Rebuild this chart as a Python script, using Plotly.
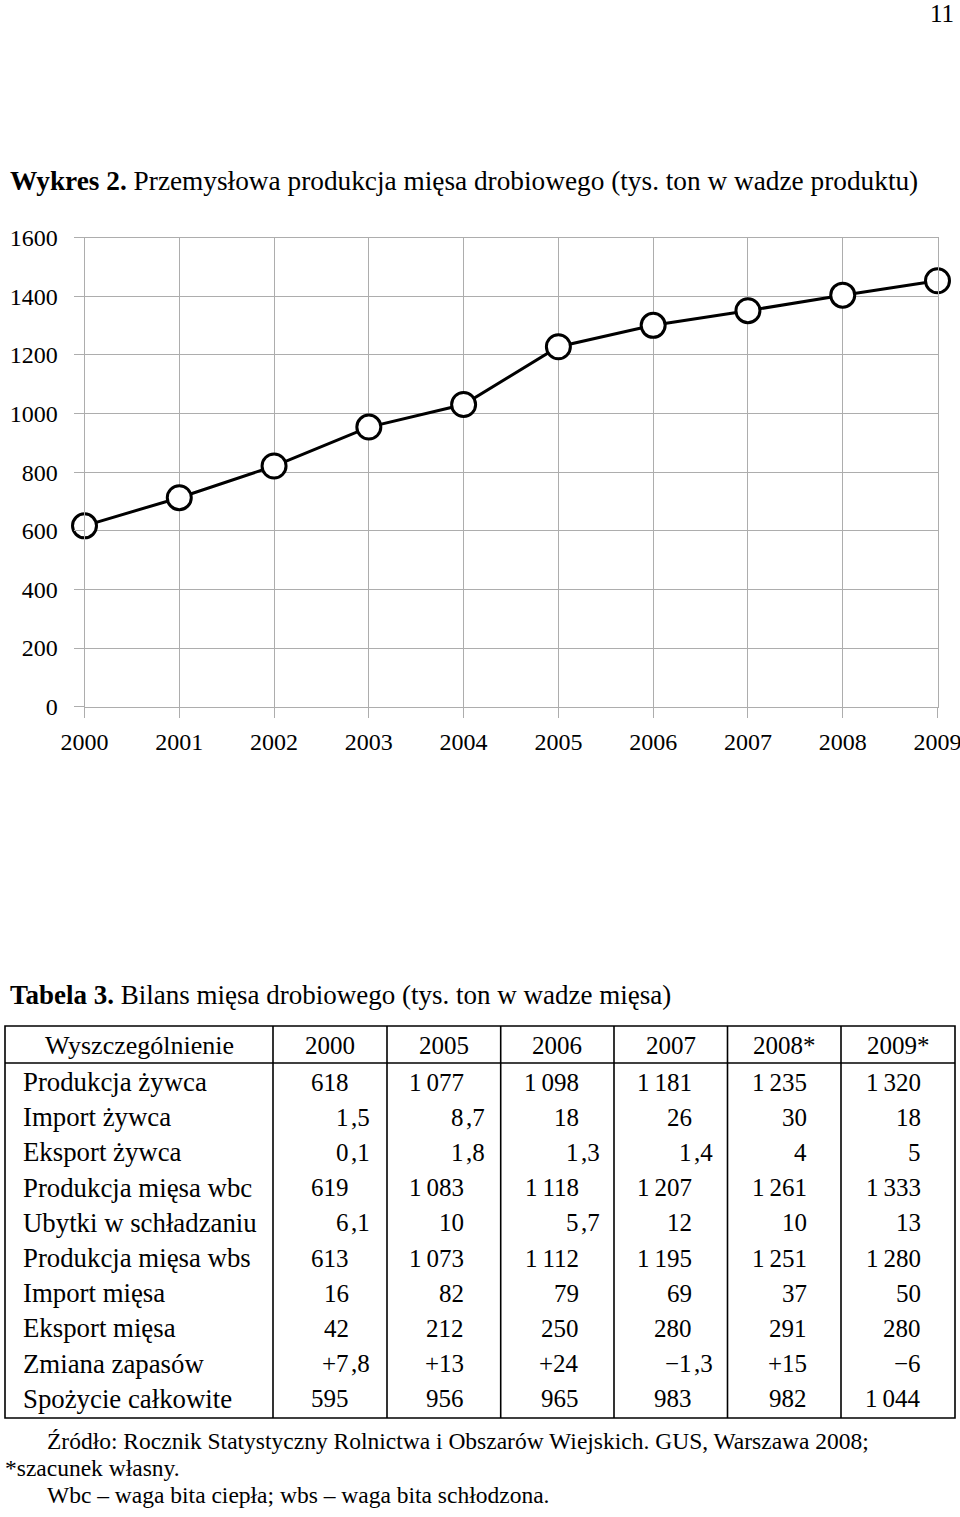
import plotly.graph_objects as go

W, H = 960, 1517
FONT = "Liberation Serif"

# ---------------- chart data ----------------
years = [2000, 2001, 2002, 2003, 2004, 2005, 2006, 2007, 2008, 2009]
production = [617, 713, 821, 954, 1031, 1228, 1301, 1351, 1404, 1453]
y_ticks = [0, 200, 400, 600, 800, 1000, 1200, 1400, 1600]

chart_title_bold = "Wykres 2."
chart_title_rest = " Przemysłowa produkcja mięsa drobiowego (tys. ton w wadze produktu)"
page_number = "11"

# ---------------- table data ----------------
table_title_bold = "Tabela 3."
table_title_rest = " Bilans mięsa drobiowego (tys. ton w wadze mięsa)"
header_first = "Wyszczególnienie"
header_years = ["2000", "2005", "2006", "2007", "2008*", "2009*"]
row_labels = [
    "Produkcja żywca", "Import żywca", "Eksport żywca", "Produkcja mięsa wbc",
    "Ubytki w schładzaniu", "Produkcja mięsa wbs", "Import mięsa", "Eksport mięsa",
    "Zmiana zapasów", "Spożycie całkowite",
]
col_2000 = ["618", "1,5", "0,1", "619", "6,1", "613", "16", "42", "+7,8", "595"]
col_2005 = ["1 077", "8,7", "1,8", "1 083", "10", "1 073", "82", "212", "+13", "956"]
col_2006 = ["1 098", "18", "1,3", "1 118", "5,7", "1 112", "79", "250", "+24", "965"]
col_2007 = ["1 181", "26", "1,4", "1 207", "12", "1 195", "69", "280", "\u22121,3", "983"]
col_2008 = ["1 235", "30", "4", "1 261", "10", "1 251", "37", "291", "+15", "982"]
col_2009 = ["1 320", "18", "5", "1 333", "13", "1 280", "50", "280", "\u22126", "1 044"]
table_columns = [col_2000, col_2005, col_2006, col_2007, col_2008, col_2009]

footer_lines = [
    "Źródło: Rocznik Statystyczny Rolnictwa i Obszarów Wiejskich. GUS, Warszawa 2008;",
    "*szacunek własny.",
    "Wbc – waga bita ciepła; wbs – waga bita schłodzona.",
]


def px(x):
    return x / W


def py(y):
    return 1 - y / H


fig = go.Figure()

fig.add_trace(go.Scatter(
    x=years, y=production, mode="lines+markers",
    line=dict(color="black", width=3),
    marker=dict(size=24, color="white", line=dict(color="black", width=3)),
    cliponaxis=False, showlegend=False, hoverinfo="x+y",
))

grid = "#adadad"
axis_common = dict(
    showgrid=True, gridcolor=grid, gridwidth=1, zeroline=False,
    showline=True, linecolor=grid, linewidth=1, mirror=True,
    ticks="outside", ticklen=10, tickcolor=grid, tickwidth=1,
    tickfont=dict(family=FONT, size=24, color="black"),
    ticklabeloverflow="allow",
    automargin=False, fixedrange=True,
)
fig.update_layout(
    template="none",
    width=W, height=H, margin=dict(l=0, r=0, t=0, b=0, pad=0), autosize=False,
    paper_bgcolor="white", plot_bgcolor="white", showlegend=False,
    font=dict(family=FONT, color="black"),
    xaxis=dict(
        domain=[px(84.5), px(937.5)], range=[years[0], years[-1]],
        tickvals=years, ticktext=[str(y) for y in years],
        ticklabelstandoff=3, **axis_common,
    ),
    yaxis=dict(
        domain=[py(706.7), py(237.7)], range=[0, 1600],
        tickvals=y_ticks, ticktext=[str(v) for v in y_ticks],
        ticklabelstandoff=11, **axis_common,
    ),
)

annotations = []
shapes = []


def text(x, y, s, size=25, xanchor="left"):
    annotations.append(dict(
        x=px(x), y=py(y), xref="paper", yref="paper", text=s, showarrow=False,
        xanchor=xanchor, yanchor="middle", font=dict(family=FONT, size=size, color="black"),
        borderpad=0,
    ))


# page number and chart title
text(955, 13, page_number, size=25, xanchor="right")
text(9, 181, "<b>" + chart_title_bold + "</b>" + chart_title_rest, size=27.3)

# table title
text(9, 995, "<b>" + table_title_bold + "</b>" + table_title_rest, size=27)

# table geometry
left, right = 5, 955
top, head_bottom, bottom = 1026, 1063, 1418
col_edges = [273, 387, 500.7, 614, 727.5, 841]
int_right = [350, 465, 580, 693, 808, 922]
header_y = 1045
row_y0, row_dy = 1082, 35.2

lw = 1.6
shapes.append(dict(type="rect", xref="paper", yref="paper",
                   x0=px(left), x1=px(right), y0=py(bottom), y1=py(top),
                   line=dict(color="black", width=lw)))
shapes.append(dict(type="line", xref="paper", yref="paper",
                   x0=px(left), x1=px(right), y0=py(head_bottom), y1=py(head_bottom),
                   line=dict(color="black", width=lw)))
for xe in col_edges:
    shapes.append(dict(type="line", xref="paper", yref="paper",
                       x0=px(xe), x1=px(xe), y0=py(bottom), y1=py(top),
                       line=dict(color="black", width=lw)))

# header
text((left + col_edges[0]) / 2, header_y, header_first, size=26, xanchor="center")
edges = col_edges + [right]
for i, hdr in enumerate(header_years):
    text((edges[i] + edges[i + 1]) / 2, header_y, hdr, size=25, xanchor="center")

# rows
for r, lab in enumerate(row_labels):
    yy = row_y0 + r * row_dy
    text(22, yy, lab, size=26.8)
    for c, col in enumerate(table_columns):
        val = col[r].replace(" ", "\u2009")
        if "," in val:
            ip, dp = val.split(",")
            text(int_right[c], yy, ip, xanchor="right")
            text(int_right[c], yy, "," + dp, xanchor="left")
        else:
            text(int_right[c], yy, val, xanchor="right")

# footer
text(46, 1441, footer_lines[0], size=23.5)
text(4, 1468, footer_lines[1], size=23.5)
text(46, 1495, footer_lines[2], size=23.5)

fig.update_layout(annotations=annotations, shapes=shapes)
fig.write_html(
    "out.html",
    config={"responsive": False, "displayModeBar": False},
    post_script="document.body.style.margin='0';",
)
